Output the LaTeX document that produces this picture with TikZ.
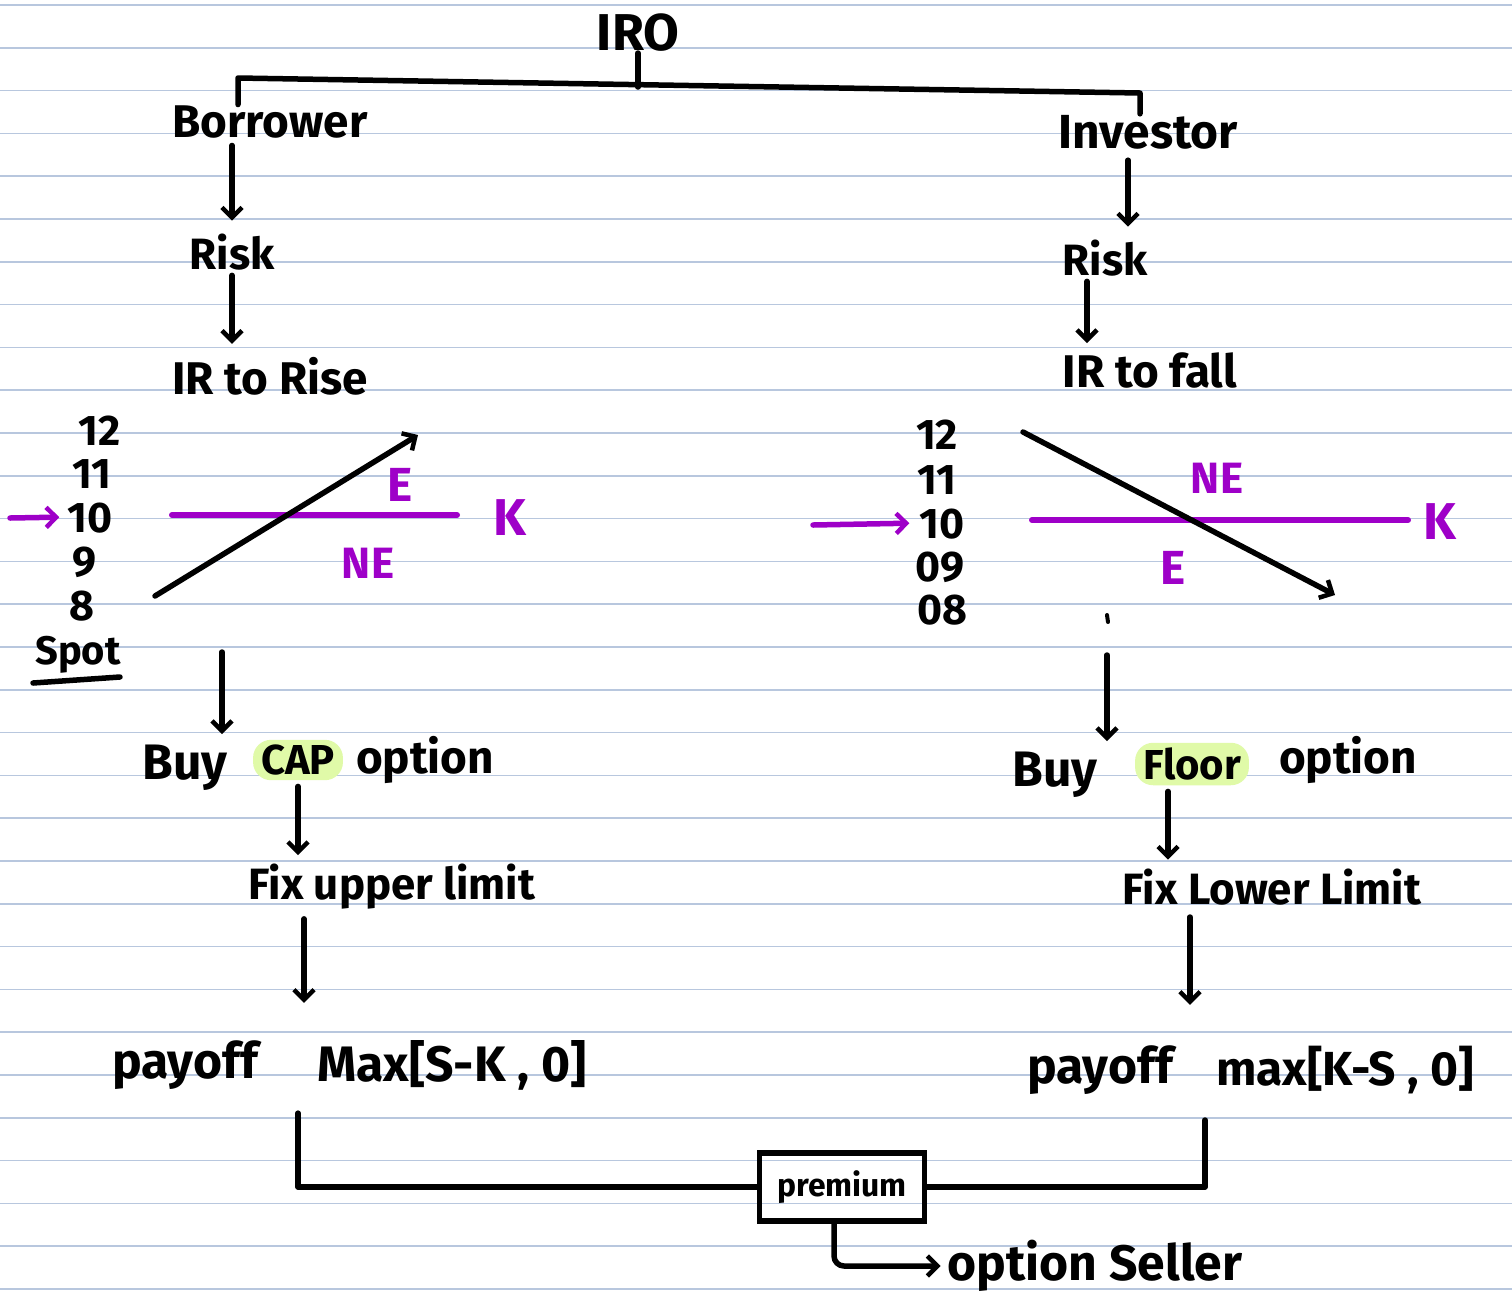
\documentclass[tikz,border=0pt]{standalone}
\usepackage{fontspec}
\setmainfont{Fira Sans}
\usetikzlibrary{arrows.meta,calc}
\definecolor{ruleblue}{RGB}{184,199,222}
\definecolor{markviolet}{RGB}{158,0,200}
\definecolor{hilite}{RGB}{224,250,168}
\begin{document}
\begin{tikzpicture}[x=1bp,y=-1bp,
  pen/.style={line width=5.5bp, line cap=round, line join=round},
  arr/.style={pen,-{Straight Barb[length=10bp,width=20bp,line width=4.5bp]}},
  vpen/.style={pen, markviolet, line width=6bp},
  varr/.style={arr, markviolet},
  txt/.style={inner sep=1bp, font=\bfseries\fontsize{#1}{#1}\selectfont},
  vtxt/.style={txt=#1, text=markviolet},
  num/.style={txt=43, inner sep=0bp, text height=30bp, text depth=0bp},
  hl/.style={txt=#1, fill=hilite, rounded corners=18bp, inner xsep=8bp, inner ysep=5bp}
]
% page and ruled lines
\fill[white] (0,0) rectangle (1512,1294);
\useasboundingbox (0,0) rectangle (1512,1294);
\foreach \k in {0,...,30}
  \draw[ruleblue, line width=1.6bp] (0,{5+42.8*\k}) -- (1512,{5+42.8*\k});

% top of the tree
\node[txt=52] (iro) at (638,33) {IRO};
\node[txt=46] (borrower) at (270,122) {Borrower};
\node[txt=48] (investor) at (1148,132) {Investor};
\coordinate (bl) at (238,78);
\coordinate (br) at (1140,93);
\draw[pen] (bl |- borrower.north) -- (bl) -- (br) -- (br |- investor.north);
\draw[pen] (iro.south) -- ++(0,34);

% left branch: borrower
\node[txt=44] (riskL) at (232,252) {Risk};
\node[txt=46] (irL) at (270,376) {IR to Rise};
\draw[arr, shorten <=6bp, shorten >=12bp] (riskL.north |- borrower.south) -- (riskL.north);
\draw[arr, shorten <=4bp, shorten >=12bp] (riskL.south) -- (riskL.south |- irL.north);

% right branch: investor
\node[txt=44] (riskR) at (1105,258) {Risk};
\node[txt=46] (irR) at (1150,370) {IR to fall};
\draw[arr, shorten <=10bp, shorten >=12bp] ([xshift=23bp]riskR.north |- investor.south) -- ([xshift=23bp]riskR.north);
\draw[arr, shorten <=4bp, shorten >=8bp] ([xshift=-18bp]riskR.south) -- ([xshift=-18bp]riskR.south |- irR.north);

% left rate chart
\node[num] (l12) at (100,430) {12};
\node[num] (l11) at (92,473) {11};
\node[num] (l10) at (90,517) {10};
\node[num] (l9)  at (84,561) {9};
\node[num] (l8)  at (82,605) {8};
\node[txt=40] (spotL) at (78,655) {Spot};
\draw[pen] (33,683) -- (120,677);
\coordinate (pinL) at (10,518);
\draw[varr, shorten >=8bp] (pinL) -- (l10.west);
\draw[vpen] (172,515) -- (457,515);
\node[vtxt=52] (kL) at (510,518) {K};
\node[vtxt=48] (eL) at (400,485) {E};
\node[vtxt=44] (neL) at (368,563) {NE};
\draw[arr] (155,596) -- (418,435);

% right rate chart
\node[num] (r12) at (937,434) {12};
\node[num] (r11) at (937,479) {11};
\node[num] (r10) at (942,523) {10};
\node[num] (r09) at (940,566) {09};
\node[num] (r08) at (942,609) {08};
\coordinate (pinR) at (813,525);
\draw[varr, shorten >=10bp] (pinR) -- (r10.west);
\draw[vpen] (1032,520) -- (1408,520);
\node[vtxt=52] (kR) at (1440,522) {K};
\node[vtxt=44] (neR) at (1217,478) {NE};
\node[vtxt=48] (eR) at (1173,568) {E};
\draw[arr] (1023,432) -- (1335,595);
\draw[pen, line width=4bp] (1107,615) -- (1108,622);

% left: cap option
\node[txt=50] (buyL) at (185,768) {Buy};
\node[hl=42] (cap) at (298,760) {CAP};
\node[txt=46] (optL) at (425,760) {option};
\coordinate (chartL) at (222,652);
\draw[arr, shorten >=10bp] (chartL) -- (chartL |- buyL.north);
\node[txt=44] (fixL) at (392,887) {Fix upper limit};
\draw[arr, shorten <=6bp, shorten >=8bp] (cap.south) -- (cap.south |- fixL.north);
\node[txt=50] (payL) at (185,1065) {payoff};
\node[txt=50] (maxL) at (452,1065) {Max[S-K , 0]};
\draw[arr, shorten <=8bp, shorten >=36bp] ([xshift=6bp]cap.south |- fixL.south) -- ([xshift=6bp]cap.south |- maxL.north);

% right: floor option
\node[txt=50] (buyR) at (1055,775) {Buy};
\node[hl=42] (floor) at (1192,764) {Floor};
\node[txt=46] (optR) at (1348,760) {option};
\coordinate (chartR) at (1107,655);
\draw[arr, shorten >=10bp] (chartR) -- (chartR |- buyR.north);
\node[txt=44] (fixR) at (1272,887) {Fix Lower Limit};
\draw[arr, shorten <=6bp, shorten >=8bp] ([xshift=-24bp]floor.south) -- ([xshift=-24bp]floor.south |- fixR.north);
\node[txt=50] (payR) at (1100,1070) {payoff};
\node[txt=48] (maxR) at (1345,1070) {max[K-S , 0]};
\coordinate (fixRarr) at (1190,905);
\draw[arr, shorten <=12bp, shorten >=40bp] (fixRarr) -- (fixRarr |- maxR.north);

% premium paid to the option seller
\node[txt=32, draw, line width=5.5bp, minimum width=165bp, minimum height=68bp] (prem) at (842,1187) {premium};
\draw[pen] ([yshift=-22bp]maxL.south -| cap.south) |- (prem.west);
\coordinate (rtick) at (1205,1120);
\draw[pen] (rtick) |- (prem.east);
\node[txt=50] (seller) at (1095,1266) {option Seller};
\draw[arr, rounded corners=10bp, shorten >=6bp] ([xshift=-8bp]prem.south) |- (seller.west);
\end{tikzpicture}
\end{document}
